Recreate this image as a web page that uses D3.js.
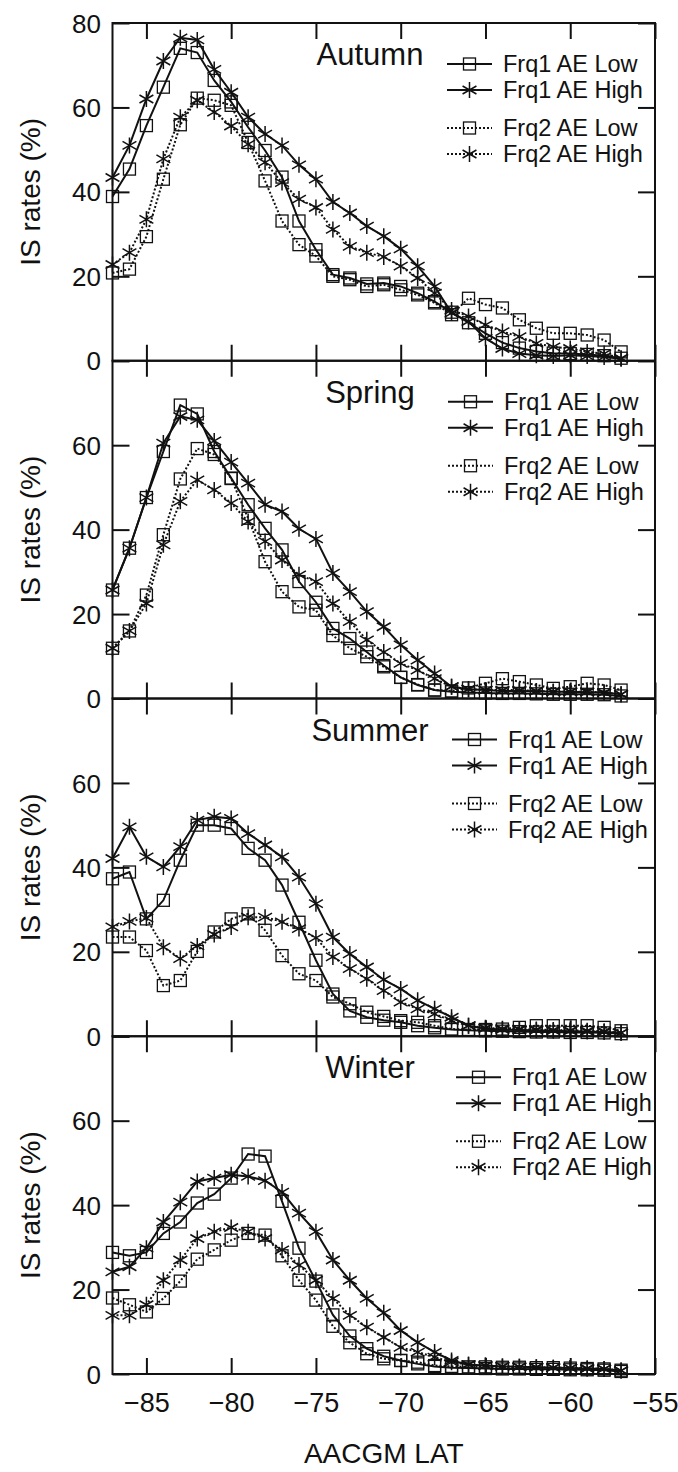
<!DOCTYPE html>
<html><head><meta charset="utf-8">
<script src="https://cdn.jsdelivr.net/npm/d3@7"></script>
<style>
body{margin:0;background:#fff;}
svg{display:block;font-family:"Liberation Sans",Arial,Helvetica,sans-serif;}
</style>
</head><body>
<svg id="chart" width="678" height="1472"></svg>
<script>
// ---------------- DATA ----------------
const latitudes = [-87,-86,-85,-84,-83,-82,-81,-80,-79,-78,-77,-76,-75,-74,-73,-72,-71,-70,-69,-68,-67,-66,-65,-64,-63,-62,-61,-60,-59,-58,-57];
const seasons = ["Autumn","Spring","Summer","Winter"];
const seriesNames = ["Frq1 AE Low","Frq1 AE High","Frq2 AE Low","Frq2 AE High"];
const xTickValues = [-85,-80,-75,-70,-65,-60,-55];
const yTickValues = [0,20,40,60,80];
const xTitle = "AACGM LAT";
const yTitle = "IS rates (%)";

// Autumn
const autumnFrq1Low  = [38.9,45.4,55.7,64.8,74.0,73.0,66.4,61.3,55.3,49.8,43.5,33.1,26.3,20.4,19.6,18.2,18.4,17.6,16.0,14.0,11.5,9.0,6.5,4.3,3.0,2.2,1.8,1.7,1.5,1.2,0.6];
const autumnFrq1High = [43.4,51.0,62.0,71.0,76.5,76.0,69.0,63.6,57.7,53.7,51.0,46.4,43.0,37.6,35.0,31.9,29.5,26.5,22.4,17.6,11.3,9.3,5.3,2.9,1.7,1.3,1.1,1.3,1.1,0.9,0.5];
const autumnFrq2Low  = [20.8,21.7,29.4,43.0,55.9,62.2,61.7,60.5,51.7,42.6,33.1,27.5,24.8,20.0,19.2,17.6,18.0,16.8,15.6,13.7,10.9,14.8,13.3,12.5,9.7,7.7,6.5,6.5,6.1,4.9,2.1];
const autumnFrq2High = [22.8,25.6,33.5,47.8,57.7,61.7,58.9,55.6,51.3,47.0,42.2,38.3,36.3,31.1,27.1,25.6,24.6,22.4,19.6,16.0,12.0,10.5,8.5,6.9,5.7,4.1,3.3,2.9,2.1,1.7,0.6];
// Spring
const springFrq1Low  = [25.7,35.6,47.6,58.5,69.5,67.4,58.5,52.2,45.9,40.3,35.2,27.7,22.8,16.6,14.2,11.0,7.8,5.0,3.2,2.0,1.6,1.4,1.3,1.2,1.2,1.1,1.0,1.0,1.0,0.9,0.6];
const springFrq1High = [25.7,35.6,47.6,60.5,66.8,66.0,61.0,56.0,51.0,45.9,44.3,40.2,37.8,29.7,25.3,20.6,17.0,12.7,9.1,5.9,2.8,2.2,2.0,1.8,1.8,1.7,1.6,1.6,1.5,1.4,1.0];
const springFrq2Low  = [11.9,16.0,24.5,38.8,52.0,59.2,57.8,52.1,42.7,32.4,25.3,21.7,20.9,14.9,11.9,9.9,7.5,5.0,3.3,2.0,1.8,2.5,3.6,4.7,4.0,3.2,2.4,2.8,3.6,3.2,2.0];
const springFrq2High = [11.9,16.0,22.5,36.4,46.7,51.8,49.4,46.3,41.9,37.2,32.8,29.3,27.7,22.5,18.2,13.9,11.0,8.3,6.7,4.7,2.8,2.2,2.0,2.0,2.0,1.8,1.6,1.6,1.6,1.4,1.0];
// Summer
const summerFrq1Low  = [37.3,38.9,27.8,32.2,41.7,50.0,50.0,49.2,44.5,41.7,35.8,27.0,18.0,10.0,6.0,4.5,3.8,3.3,2.5,2.0,1.6,1.4,1.3,1.2,1.1,1.0,1.0,0.9,0.9,0.8,0.6];
const summerFrq1High = [42.1,49.6,42.5,40.1,44.9,51.2,52.0,51.6,48.0,45.3,42.5,37.7,31.4,23.5,19.5,16.4,13.4,11.2,8.5,6.5,4.5,2.5,1.8,1.6,1.5,1.4,1.3,1.2,1.1,1.0,0.8];
const summerFrq2Low  = [23.5,23.5,20.3,12.0,13.2,20.1,24.7,27.8,29.0,25.1,19.1,14.8,13.2,9.3,7.7,5.7,4.7,3.7,3.3,2.5,1.7,1.6,1.6,1.7,2.1,2.5,2.5,2.5,2.5,2.1,1.3];
const summerFrq2High = [25.9,27.2,28.0,21.1,18.4,21.4,24.1,25.9,28.2,28.2,27.1,25.5,23.3,18.8,16.0,13.6,10.8,8.1,6.5,5.3,3.7,2.5,2.0,1.8,1.7,1.6,1.5,1.4,1.3,1.2,0.8];
// Winter
const winterFrq1Low  = [28.8,28.0,28.8,33.3,36.0,40.5,42.6,46.4,52.1,51.6,40.9,29.8,22.0,14.0,9.0,6.0,4.2,3.2,2.4,1.8,1.5,1.4,1.3,1.2,1.2,1.1,1.1,1.0,1.0,0.9,0.6];
const winterFrq1High = [24.2,25.4,29.8,36.0,40.7,45.6,46.4,47.2,46.8,45.8,43.1,38.1,33.7,27.0,22.2,17.9,14.5,10.3,7.5,5.2,3.2,2.2,2.0,1.8,1.7,1.6,1.5,1.4,1.3,1.2,0.8];
const winterFrq2Low  = [18.0,16.4,14.7,17.9,22.0,27.2,29.4,31.7,33.3,32.9,28.0,22.2,17.5,11.3,7.4,4.8,3.6,3.2,2.8,2.0,1.8,1.7,1.7,1.6,1.6,1.5,1.5,1.4,1.3,1.2,0.9];
const winterFrq2High = [13.9,13.9,16.4,22.2,27.0,32.1,33.7,34.7,33.7,32.1,29.4,25.8,22.2,17.9,13.9,11.1,8.7,6.3,5.2,4.0,2.8,2.2,2.0,1.8,1.7,1.6,1.5,1.4,1.3,1.2,0.8];

const seasonSeries = [
  [autumnFrq1Low, autumnFrq1High, autumnFrq2Low, autumnFrq2High],
  [springFrq1Low, springFrq1High, springFrq2Low, springFrq2High],
  [summerFrq1Low, summerFrq1High, summerFrq2Low, summerFrq2High],
  [winterFrq1Low, winterFrq1High, winterFrq2Low, winterFrq2High]
];

// ---------------- STYLE / LAYOUT ----------------
const INK = "#111";
const plotLeft = 112.5, plotRight = 655;
const firstTop = 23, panelH = 337.75;
const legendX = [447, 448, 452, 456];
const legendRows = [41, 67, 105, 131];
const markerType = ["square","star","square","star"];
const dashed = [false,false,true,true];

const svg = d3.select("#chart");
const x = d3.scaleLinear().domain([-87,-55]).range([plotLeft, plotRight]);

function drawMarker(g, type, cx, cy){
  if(type === "square"){
    g.append("rect").attr("x", cx-6).attr("y", cy-6).attr("width", 12).attr("height", 12)
      .attr("fill","none").attr("stroke", INK).attr("stroke-width", 1.3);
  } else {
    const r = 8, a = r*Math.sin(Math.PI/3), b = r*Math.cos(Math.PI/3);
    g.append("path")
      .attr("d", `M${cx},${cy-r}L${cx},${cy+r}M${cx-a},${cy-b}L${cx+a},${cy+b}M${cx-a},${cy+b}L${cx+a},${cy-b}`)
      .attr("fill","none").attr("stroke", INK).attr("stroke-width", 1.5);
  }
}

seasons.forEach((season, i) => {
  const top = firstTop + i*panelH;
  const bottom = top + panelH;
  const y = d3.scaleLinear().domain([0,80]).range([bottom, top]);
  const g = svg.append("g");
  const isLast = i === seasons.length - 1;

  // series
  seasonSeries[i].forEach((vals, k) => {
    const pts = latitudes.map((lat, j) => [lat, vals[j]]);
    const line = d3.line().x(d => x(d[0])).y(d => y(d[1]));
    g.append("path").attr("d", line(pts)).attr("fill","none")
      .attr("stroke", INK).attr("stroke-width", 2)
      .attr("stroke-dasharray", dashed[k] ? "2,2" : null);
    const mg = g.append("g");
    pts.forEach(p => drawMarker(mg, markerType[k], x(p[0]), y(p[1])));
  });

  // axes (inward ticks)
  const axB = d3.axisBottom(x).tickValues(xTickValues).tickSizeInner(-16).tickSizeOuter(0).tickPadding(18.5)
     .tickFormat(isLast ? d3.format("d") : () => "");
  const axT = d3.axisTop(x).tickValues(xTickValues).tickSizeInner(-16).tickSizeOuter(0).tickFormat(() => "");
  const axL = d3.axisLeft(y).tickValues(yTickValues).tickSizeInner(-17).tickSizeOuter(0).tickPadding(11.5)
     .tickFormat(d => (d === 80 && i > 0) ? "" : d3.format("d")(d));
  const axR = d3.axisRight(y).tickValues(yTickValues).tickSizeInner(-17).tickSizeOuter(0).tickFormat(() => "");

  const gb = g.append("g").attr("transform", `translate(0,${bottom})`).call(axB);
  const gt = g.append("g").attr("transform", `translate(0,${top})`).call(axT);
  const gl = g.append("g").attr("transform", `translate(${plotLeft},0)`).call(axL);
  const gr = g.append("g").attr("transform", `translate(${plotRight},0)`).call(axR);
  [gb,gt,gl,gr].forEach(a => {
    a.select(".domain").remove();
    a.selectAll(".tick line").attr("stroke", INK).attr("stroke-width", 2);
    a.selectAll("text").attr("fill", INK).style("font-family", '"Liberation Sans",Arial,sans-serif');
  });
  gb.selectAll("text").style("font-size","27px");
  gl.selectAll("text").style("font-size","26px").attr("dy","0.35em");

  // frame
  g.append("rect").attr("x", plotLeft).attr("y", top).attr("width", plotRight-plotLeft).attr("height", panelH)
    .attr("fill","none").attr("stroke", INK).attr("stroke-width", 2);

  // y title
  g.append("text").attr("transform", `translate(30,${(top+bottom)/2}) rotate(-90)`)
    .attr("text-anchor","middle").attr("dominant-baseline","central")
    .style("font-size","28px").attr("fill", INK).text(yTitle);

  // season label
  g.append("text").attr("x", 370).attr("y", top + 42).attr("text-anchor","middle")
    .style("font-size","31px").attr("fill", INK).text(season);

  // legend
  const lx = legendX[i];
  seriesNames.forEach((name, k) => {
    const ly = top + legendRows[k];
    g.append("line").attr("x1", lx).attr("x2", lx+45).attr("y1", ly).attr("y2", ly)
      .attr("stroke", INK).attr("stroke-width", 2).attr("stroke-dasharray", dashed[k] ? "2,2" : null);
    drawMarker(g, markerType[k], lx+22.5, ly);
    g.append("text").attr("x", lx+56).attr("y", ly).attr("dominant-baseline","central")
      .style("font-size","23.5px").attr("fill", INK).text(name);
  });
});

// x title
svg.append("text").attr("x", (plotLeft+plotRight)/2).attr("y", 1463).attr("text-anchor","middle")
  .style("font-size","28px").attr("fill", INK).text(xTitle);
</script>
</body></html>
